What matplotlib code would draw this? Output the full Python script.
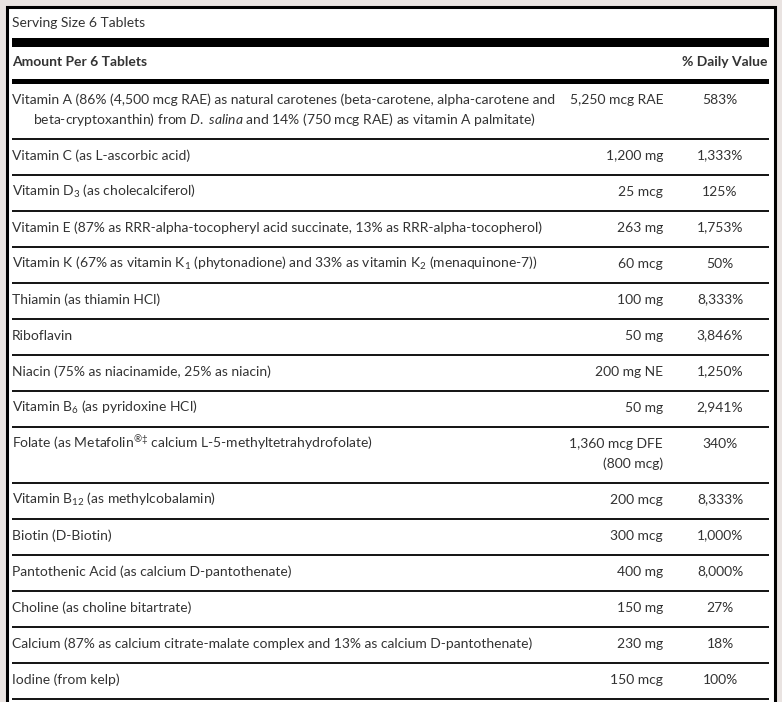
import matplotlib
matplotlib.use("Agg")
import matplotlib.pyplot as plt

plt.rcParams["font.family"] = ["Lato", "DejaVu Sans"]
plt.rcParams["mathtext.fontset"] = "custom"
plt.rcParams["mathtext.rm"] = "Lato"
plt.rcParams["mathtext.it"] = "Lato:italic"
plt.rcParams["mathtext.bf"] = "Lato:bold"

serving = "Serving Size 6 Tablets"
header_left = "Amount Per 6 Tablets"
header_right = "% Daily Value"

# each nutrient may span one or two lines
names = [
    ["Vitamin A (86% (4,500 mcg RAE) as natural carotenes (beta-carotene, alpha-carotene and",
     r"beta-cryptoxanthin) from $\mathit{D.\ salina}$ and 14% (750 mcg RAE) as vitamin A palmitate)"],
    ["Vitamin C (as L-ascorbic acid)"],
    [r"Vitamin D$_\mathdefault{3}$ (as cholecalciferol)"],
    ["Vitamin E (87% as RRR-alpha-tocopheryl acid succinate, 13% as RRR-alpha-tocopherol)"],
    [r"Vitamin K (67% as vitamin K$_\mathdefault{1}$ (phytonadione) and 33% as vitamin K$_\mathdefault{2}$ (menaquinone-7))"],
    ["Thiamin (as thiamin HCl)"],
    ["Riboflavin"],
    ["Niacin (75% as niacinamide, 25% as niacin)"],
    [r"Vitamin B$_\mathdefault{6}$ (as pyridoxine HCl)"],
    [r"Folate (as Metafolin$^\mathdefault{®‡}$ calcium L-5-methyltetrahydrofolate)"],
    [r"Vitamin B$_\mathdefault{12}$ (as methylcobalamin)"],
    ["Biotin (D-Biotin)"],
    ["Pantothenic Acid (as calcium D-pantothenate)"],
    ["Choline (as choline bitartrate)"],
    ["Calcium (87% as calcium citrate-malate complex and 13% as calcium D-pantothenate)"],
    ["Iodine (from kelp)"],
]
amounts = [
    ["5,250 mcg RAE"], ["1,200 mg"], ["25 mcg"], ["263 mg"], ["60 mcg"],
    ["100 mg"], ["50 mg"], ["200 mg NE"], ["50 mg"], ["1,360 mcg DFE", "(800 mcg)"],
    ["200 mcg"], ["300 mcg"], ["400 mg"], ["150 mg"], ["230 mg"], ["150 mcg"],
]
daily = ["583%", "1,333%", "125%", "1,753%", "50%", "8,333%", "3,846%", "1,250%",
         "2,941%", "340%", "8,333%", "1,000%", "8,000%", "27%", "18%", "100%"]

W, H = 782, 702
fig = plt.figure(figsize=(W / 100, H / 100), dpi=100)
fig.patch.set_facecolor("#e9e3e1")
ax = fig.add_axes([0, 0, 1, 1])
ax.set_xlim(0, W)
ax.set_ylim(H, 0)
ax.axis("off")

txt = "#333333"
fs = 10

# white panel with black frame (open at the bottom, it runs off the image)
ax.add_patch(plt.Rectangle((6.5, 6.5), 768, 720, facecolor="white",
                           edgecolor="black", linewidth=2.2))

x0, x1 = 12, 769
ax.text(x0, 23, serving, fontsize=fs, color=txt, va="center")
ax.add_patch(plt.Rectangle((x0, 38), x1 - x0, 9, color="black", lw=0))
ax.text(x0, 62, header_left, fontsize=fs, color=txt, va="center", fontweight="bold")
ax.text(768, 62, header_right, fontsize=fs, color=txt, va="center", ha="right",
        fontweight="bold")
ax.add_patch(plt.Rectangle((x0, 79), x1 - x0, 4.5, color="black", lw=0))

amt_x = 663
dv_x = 720
line_h = 20
indent = 21
y = 83.5
for nm, am, dv in zip(names, amounts, daily):
    n = max(len(nm), len(am))
    h = 36 if n == 1 else 56
    ty = y + 16
    for i, s in enumerate(nm):
        ax.text(x0 + (indent if i else 0), ty + i * line_h, s, fontsize=fs,
                color=txt, va="center")
    for i, s in enumerate(am):
        ax.text(amt_x, ty + i * line_h, s, fontsize=fs, color=txt, va="center", ha="right")
    ax.text(dv_x, ty, dv, fontsize=fs, color=txt, va="center", ha="center")
    y += h
    ax.plot([x0, x1], [y - 1, y - 1], color="black", lw=1.3, solid_capstyle="butt")

fig.savefig("out.png", dpi=100, facecolor=fig.get_facecolor())
